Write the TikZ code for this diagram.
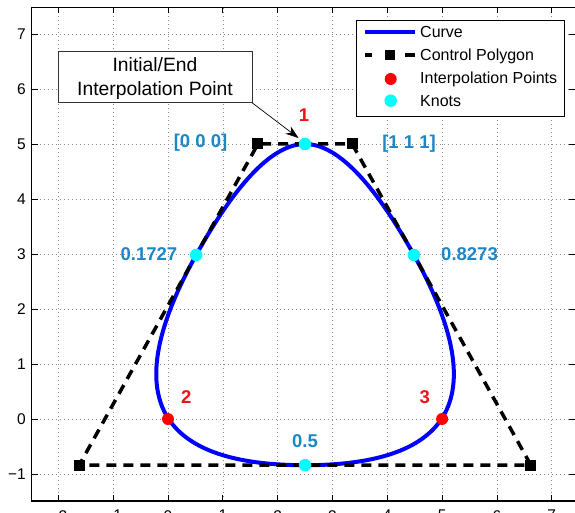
\documentclass[tikz,border=0pt]{standalone}
\usepackage{fontspec}
\setmainfont{Liberation Sans}
\usetikzlibrary{calc,arrows.meta}
\definecolor{labblue}{RGB}{25,135,200}
\definecolor{labred}{RGB}{235,20,20}
\definecolor{curveblue}{RGB}{0,0,255}
\definecolor{knotcyan}{RGB}{0,255,255}
\begin{document}
\begin{tikzpicture}[x=1pt,y=-1pt,
  curve/.style={draw=curveblue,line width=4pt},
  poly/.style={draw=black,line width=3.5pt,dash pattern=on 10pt off 7pt},
  ctrlsq/.style={rectangle,fill=black,minimum size=11pt,inner sep=0pt},
  ipt/.style={circle,fill=red,minimum size=12pt,inner sep=0pt},
  kpt/.style={circle,fill=knotcyan,minimum size=12.5pt,inner sep=0pt},
  gridln/.style={black!45,line width=0.6pt,dash pattern=on 0.8pt off 3.2pt},
  tickmk/.style={black,line width=0.8pt},
  axisline/.style={black,line width=1.1pt},
  ticklab/.style={font={\fontsize{15.5}{18}\selectfont},inner sep=0pt},
  leglab/.style={font={\fontsize{16}{19}\selectfont},anchor=base west,inner sep=0pt},
  datalab/.style={font={\fontsize{18.5}{22}\selectfont\bfseries},anchor=base,inner sep=0pt},
  annlab/.style={font={\fontsize{19.3}{23}\selectfont},anchor=base,inner sep=0pt},
]
\useasboundingbox (0,0) rectangle (575,513);

\begin{scope}[shift={(168pt,-419pt)},x=54.82pt,y=55pt]
  % grid
  \foreach \gx in {-2,...,7} \draw[gridln] (\gx,-1.491) -- (\gx,7.485);
  \foreach \gy in {-1,...,7} \draw[gridln] (-2.486,\gy) -- (7.43,\gy);
  % ticks
  \foreach \gx in {-2,...,7} {
    \draw[tickmk] (\gx,-1.491) -- ++(0,0.109);
    \draw[tickmk] (\gx,7.485) -- ++(0,-0.109);
  }
  \foreach \gy in {-1,...,7} {
    \draw[tickmk] (-2.486,\gy) -- ++(0.1095,0);
    \draw[tickmk] (7.43,\gy) -- ++(-0.1095,0);
  }
  \draw[axisline] (-2.486,-1.491) rectangle (7.43,7.485);
  % tick labels
  \foreach \gx/\lab in {-2/−2,-1/−1,0/0,1/1,2/2,3/3,4/4,5/5,6/6,7/7}
    \node[ticklab,anchor=north] (xl\gx) at (\gx,-1.6545) {\lab};
  \foreach \gy/\lab in {-1/−1,0/0,1/1,2/2,3/3,4/4,5/5,6/6,7/7}
    \node[ticklab,anchor=east] (yl\gy) at (-2.59,\gy) {\lab};

  % control points and knots
  \coordinate (K0) at (2.5,5);
  \coordinate (P1) at (1.64,5);
  \coordinate (P2) at (-1.62,-0.84);
  \coordinate (P3) at (6.62,-0.84);
  \coordinate (P4) at (3.36,5);
  \coordinate (K1) at ($(P1)!0.3454!(P2)$);
  \coordinate (K2) at ($(P2)!0.5!(P3)$);
  \coordinate (K3) at ($(P4)!0.3454!(P3)$);

  % curve (quadratic B-spline pieces as cubics)
  \draw[curve] (K0)
    .. controls ($(K0)!0.6667!(P1)$) and ($(K1)!0.6667!(P1)$) .. (K1)
    .. controls ($(K1)!0.6667!(P2)$) and ($(K2)!0.6667!(P2)$) .. (K2)
    .. controls ($(K2)!0.6667!(P3)$) and ($(K3)!0.6667!(P3)$) .. (K3)
    .. controls ($(K3)!0.6667!(P4)$) and ($(K0)!0.6667!(P4)$) .. (K0) -- cycle;

  % control polygon
  \draw[poly] (K0) -- (P1) -- (P2) -- (P3) -- (P4) -- cycle;
  \foreach \p in {P1,P2,P3,P4} \node[ctrlsq] (sq\p) at (\p) {};

  % interpolation points
  \node[ipt] (I1) at (2.5,5) {};
  \node[ipt] (I2) at (0,0) {};
  \node[ipt] (I3) at (5,0) {};
  % knots
  \node[kpt] (N0) at (K0) {};
  \node[kpt] (N1) at (K1) {};
  \node[kpt] (N2) at (K2) {};
  \node[kpt] (N3) at (K3) {};
\end{scope}

% legend
\node[draw=black,fill=white,line width=0.8pt,minimum width=208pt,minimum height=96pt,
      inner sep=0pt,anchor=north west] (legend) at (356,20) {};
\coordinate (lc1) at (365,32); \coordinate (lc2) at (415,32);
\draw[curve] (lc1) -- (lc2);
\node[leglab] (lgcurve) at (420,38) {Curve};
\coordinate (lp1) at (365,55); \coordinate (lp2) at (372,55);
\coordinate (lp3) at (405,55); \coordinate (lp4) at (415,55);
\draw[black,line width=3.5pt] (lp1) -- (lp2);
\draw[black,line width=3.5pt] (lp3) -- (lp4);
\node[ctrlsq,minimum size=10pt] (lgsq) at (390,55) {};
\node[leglab] (lgpoly) at (420,61) {Control Polygon};
\node[ipt] (lgred) at (390.7,79) {};
\node[leglab] (lgint) at (420,84) {Interpolation Points};
\node[kpt] (lgcyan) at (390.7,100.7) {};
\node[leglab] (lgknot) at (420,106.7) {Knots};

% annotation
\node[draw=black!80,fill=white,line width=0.7pt,minimum width=193.7pt,minimum height=51.6pt,
      anchor=north west,inner sep=0pt] (ann) at (58,50.7) {};
\node[annlab] (ann1) at (155,71.7) {Initial/End};
\node[annlab] (ann2) at (155,96) {Interpolation Point};
\coordinate (tip) at (298.5,138);
\draw[-{Stealth[length=13pt,width=9pt,inset=4pt]},line width=0.7pt] (ann.south east) -- (tip);

% data labels
\node[datalab,text=labred] (l1) at (304,122) {1};
\node[datalab,text=labblue] (l000) at (200.5,148) {[0 0 0]};
\node[datalab,text=labblue] (l111) at (409,148.5) {[1 1 1]};
\node[datalab,text=labblue] (l17) at (149,260) {0.1727};
\node[datalab,text=labblue] (l82) at (469.5,260) {0.8273};
\node[datalab,text=labred] (l2) at (186.3,403.3) {2};
\node[datalab,text=labred] (l3) at (424.7,403.3) {3};
\node[datalab,text=labblue] (l05) at (305,447) {0.5};
\end{tikzpicture}
\end{document}
